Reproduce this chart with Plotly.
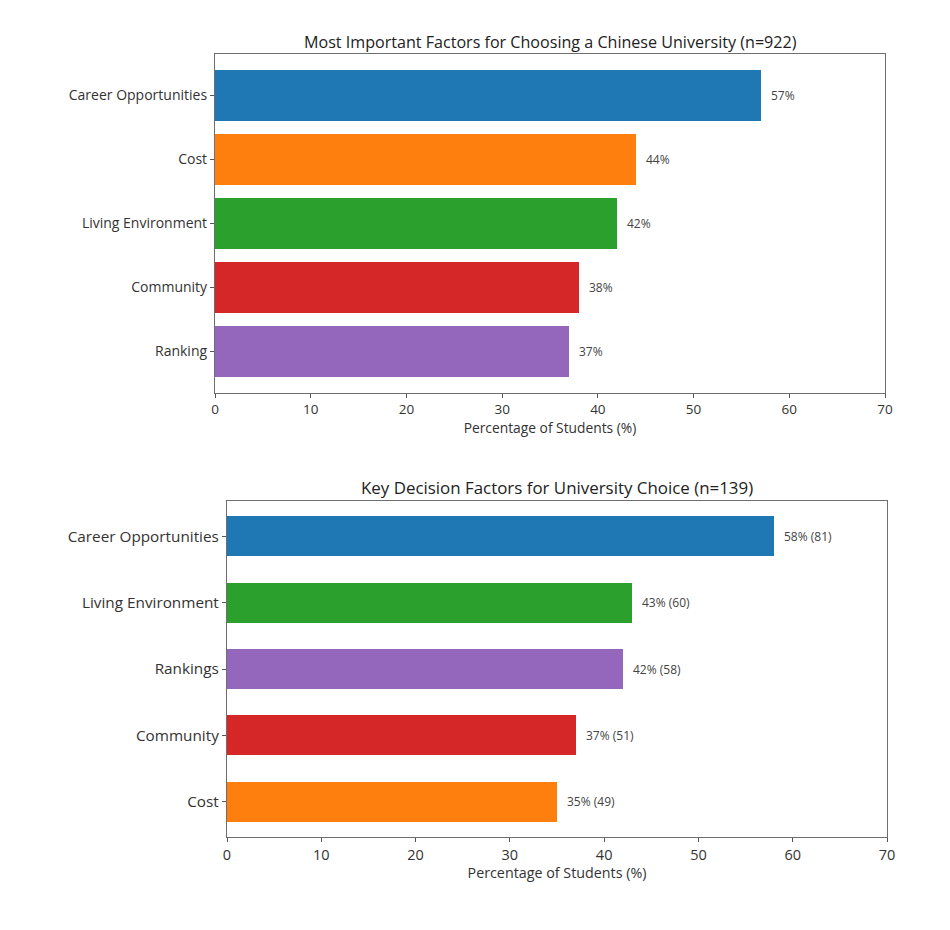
import plotly.graph_objects as go

# Top chart data
top_title = "Most Important Factors for Choosing a Chinese University (n=922)"
top_categories = ["Career Opportunities", "Cost", "Living Environment", "Community", "Ranking"]
top_values = [57, 44, 42, 38, 37]
top_labels = ["57%", "44%", "42%", "38%", "37%"]
top_colors = ["#1f77b4", "#ff7f0e", "#2ca02c", "#d62728", "#9467bd"]

# Bottom chart data
bot_title = "Key Decision Factors for University Choice (n=139)"
bot_categories = ["Career Opportunities", "Living Environment", "Rankings", "Community", "Cost"]
bot_values = [58, 43, 42, 37, 35]
bot_counts = [81, 60, 58, 51, 49]
bot_colors = ["#1f77b4", "#2ca02c", "#9467bd", "#d62728", "#ff7f0e"]

x_ticks = [0, 10, 20, 30, 40, 50, 60, 70]
x_title = "Percentage of Students (%)"

OFF = 8  # page body margin
W, H = 950 - 2 * OFF, 930 - 2 * OFF
FONT = "Open Sans"

fig = go.Figure()
fig.add_trace(go.Bar(
    x=top_values, y=top_categories, orientation="h", width=0.8,
    marker=dict(color=top_colors, line=dict(width=0)),
    xaxis="x", yaxis="y", showlegend=False, hoverinfo="x+y",
))
fig.add_trace(go.Bar(
    x=bot_values, y=bot_categories, orientation="h", width=0.6,
    marker=dict(color=bot_colors, line=dict(width=0)),
    xaxis="x2", yaxis="y2", showlegend=False, hoverinfo="x+y",
))

annotations = []
for c, v, lab in zip(top_categories, top_values, top_labels):
    annotations.append(dict(x=v, y=c, xref="x", yref="y", text=lab, showarrow=False,
                            xanchor="left", xshift=8, font=dict(size=12, color="#444", family=FONT)))
for c, v, n in zip(bot_categories, bot_values, bot_counts):
    annotations.append(dict(x=v, y=c, xref="x2", yref="y2", text=f"{v}% ({n})", showarrow=False,
                            xanchor="left", xshift=8, font=dict(size=12, color="#444", family=FONT)))

def px_x(p):
    return (p - OFF) / W

def px_y(p):
    return 1 - (p - OFF) / H

annotations.append(dict(x=px_x((215 + 885) / 2), y=px_y(42), xref="paper", yref="paper", text=top_title,
                        showarrow=False, xanchor="center", yanchor="middle",
                        font=dict(size=16.1, color="#222", family=FONT)))
annotations.append(dict(x=px_x((227 + 887) / 2), y=px_y(487), xref="paper", yref="paper", text=bot_title,
                        showarrow=False, xanchor="center", yanchor="middle",
                        font=dict(size=16.9, color="#222", family=FONT)))

axis_common = dict(showline=True, linecolor="#6e6e6e", linewidth=1.2, mirror=True,
                   showgrid=False, zeroline=False, ticks="outside", ticklen=4,
                   tickcolor="#555", automargin=False)

fig.update_layout(
    width=W, height=H,
    margin=dict(l=0, r=0, t=0, b=0, pad=0, autoexpand=False),
    paper_bgcolor="white", plot_bgcolor="white",
    font=dict(family=FONT, color="#333"),
    annotations=annotations,
    bargap=0,
    xaxis=dict(domain=[px_x(215), px_x(885)], anchor="y", range=[0, 70], tickvals=x_ticks,
               tickfont=dict(size=13.5), title=dict(text=x_title, font=dict(size=13.8), standoff=4),
               **axis_common),
    yaxis=dict(domain=[px_y(393), px_y(54)], anchor="x", type="category",
               categoryorder="array", categoryarray=top_categories,
               range=[len(top_categories) - 1 + 0.65, -0.65],
               tickfont=dict(size=14), **axis_common),
    xaxis2=dict(domain=[px_x(227), px_x(887)], anchor="y2", range=[0, 70], tickvals=x_ticks,
                tickfont=dict(size=14.5), title=dict(text=x_title, font=dict(size=14.3), standoff=4),
                **axis_common),
    yaxis2=dict(domain=[px_y(837), px_y(501)], anchor="x2", type="category",
                categoryorder="array", categoryarray=bot_categories,
                range=[len(bot_categories) - 1 + 0.53, -0.53],
                tickfont=dict(size=15.3), **axis_common),
)

fig.write_html("out.html")
